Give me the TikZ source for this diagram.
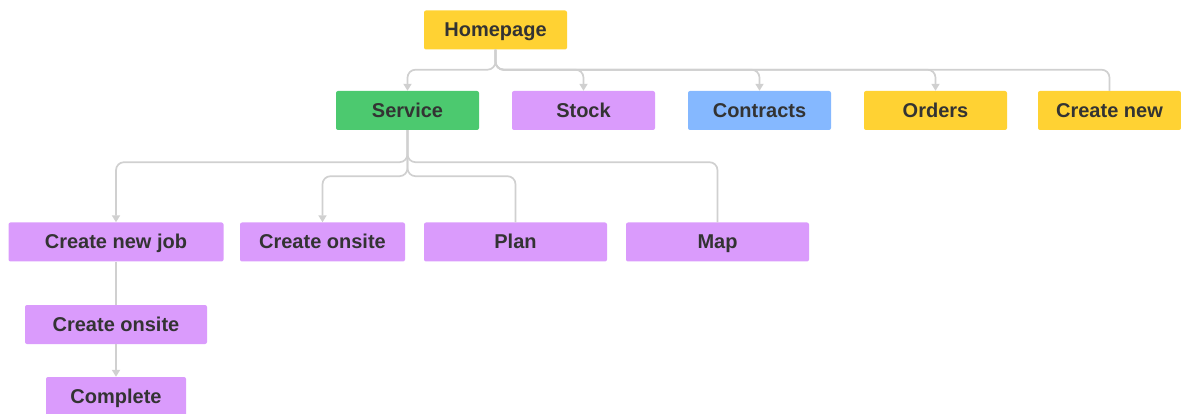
\documentclass[tikz,border=0pt]{standalone}
\usepackage{fontspec}
\setmainfont{Liberation Sans}
\usetikzlibrary{arrows.meta,calc}

\definecolor{pageyellow}{HTML}{FFD233}
\definecolor{pagegreen}{HTML}{4CC96F}
\definecolor{pagepurple}{HTML}{DA9BFC}
\definecolor{pageblue}{HTML}{85B8FF}
\definecolor{linkgray}{HTML}{D0D0D0}
\definecolor{labelgray}{HTML}{333333}

\tikzset{
  page/.style={rounded corners=2pt, minimum height=39pt, inner sep=0pt,
    text height=16pt, text depth=2pt,
    font=\fontsize{20}{24}\selectfont\bfseries, text=labelgray},
  link/.style={draw=linkgray, line width=1.7pt, rounded corners=8pt},
  tip/.style={-{Triangle[length=7pt, width=8pt]}}
}

\begin{document}
\begin{tikzpicture}[x=1pt,y=-1pt]
\useasboundingbox (0,0) rectangle (1181,414);
% top level
\node[page, fill=pageyellow, minimum width=143pt] (home) at (495.5,30) {Homepage};
\node[page, fill=pagegreen,  minimum width=143pt] (serv) at (407.5,110.5) {Service};
\node[page, fill=pagepurple, minimum width=143pt] (stock) at (583.5,110.5) {Stock};
\node[page, fill=pageblue,   minimum width=143pt] (contr) at (759.5,110.5) {Contracts};
\node[page, fill=pageyellow, minimum width=143pt] (orders) at (935.5,110.5) {Orders};
\node[page, fill=pageyellow, minimum width=143pt] (newpg) at (1109.5,110.5) {Create new};
% service pages
\node[page, fill=pagepurple, minimum width=215pt] (newjob) at (116,242) {Create new job};
\node[page, fill=pagepurple, minimum width=165pt] (onsite) at (322.5,242) {Create onsite};
\node[page, fill=pagepurple, minimum width=183pt] (plan) at (515.5,242) {Plan};
\node[page, fill=pagepurple, minimum width=183pt] (map) at (717.5,242) {Map};
% job flow
\node[page, fill=pagepurple, minimum width=182pt] (jobsite) at (116,324.5) {Create onsite};
\node[page, fill=pagepurple, minimum width=140pt] (done) at (116,396.5) {Complete};

\coordinate (homebus) at ($(home.south)+(0,20)$);
\coordinate (servout) at ($(serv.south)+(0,32)$);
\coordinate (servin) at ($(serv.south)+(0,46)$);

\draw[link, tip] (home.south) -- (homebus) -| (serv.north);
\draw[link, tip] (home.south) -- (homebus) -| (stock.north);
\draw[link, tip] (home.south) -- (homebus) -| (contr.north);
\draw[link, tip] (home.south) -- (homebus) -| (orders.north);
\draw[link] (home.south) -- (homebus) -| (newpg.north);

\draw[link, tip] (serv.south) -- (servout) -| (newjob.north);
\draw[link] (serv.south) -- (servout) -| (map.north);
\draw[link, tip] (serv.south) -- (servin) -| (onsite.north);
\draw[link] (serv.south) -- (servin) -| (plan.north);

\draw[link] (newjob.south) -- (jobsite.north);
\draw[link, tip] (jobsite.south) -- (done.north);
\end{tikzpicture}
\end{document}
